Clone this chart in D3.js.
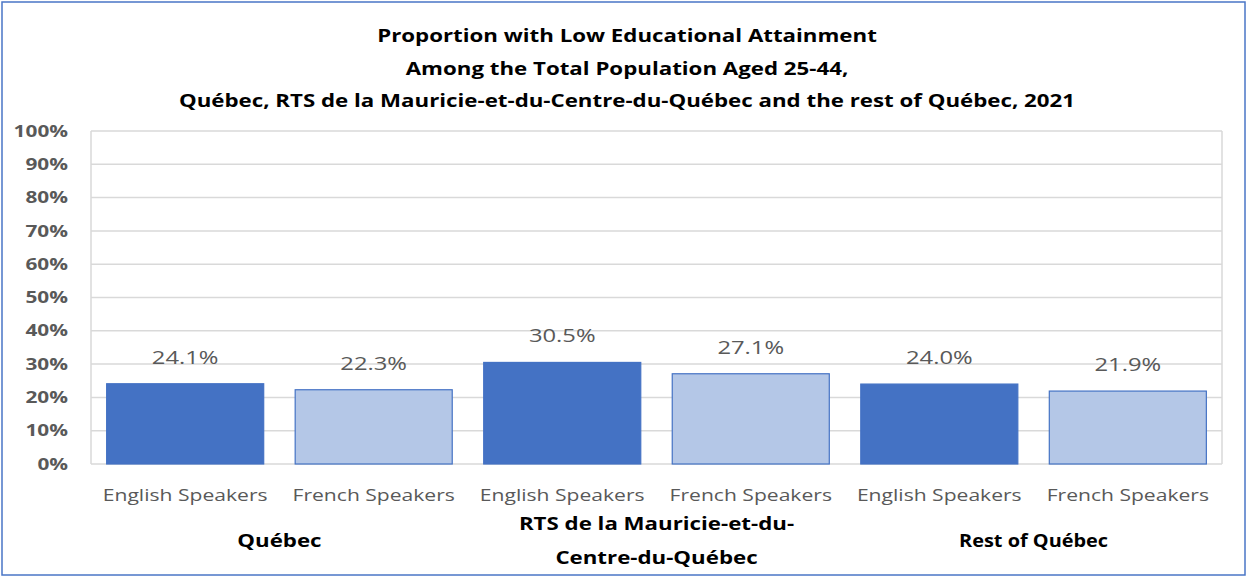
<!DOCTYPE html>
<html>
<head>
<meta charset="utf-8">
<script src="https://cdn.jsdelivr.net/npm/d3@7"></script>
<style>
  body { margin: 0; background: #fff; }
  svg { font-family: "Open Sans", "Noto Sans", sans-serif; }
</style>
</head>
<body>
<div id="chart"></div>
<script>
// chart data
var titleLines = ["Proportion with Low Educational  Attainment",
                  "Among the Total Population Aged 25-44,",
                  "Québec, RTS de la Mauricie-et-du-Centre-du-Québec and the rest of Québec, 2021"];
var regions = ["Québec", "RTS de la Mauricie-et-du-Centre-du-Québec", "Rest of Québec"];
var regionLabels = [["Québec"], ["RTS de la Mauricie-et-du-", "Centre-du-Québec"], ["Rest of Québec"]];
var speakers = ["English Speakers", "French Speakers"];
var values = [24.1, 22.3, 30.5, 27.1, 24.0, 21.9];
var yTicks = [0, 10, 20, 30, 40, 50, 60, 70, 80, 90, 100];

var W = 1247, H = 577;
var plot = {left: 91, right: 1222, top: 131, bottom: 464};

// the original picture is stretched sideways, so stretch the text the same way
function widen(sel, factor) {
  sel.each(function() {
    var len = this.getComputedTextLength();
    d3.select(this).attr("textLength", len * factor).attr("lengthAdjust", "spacingAndGlyphs");
  });
}

var svg = d3.select("#chart").append("svg")
    .attr("width", W).attr("height", H);

// outer border
svg.append("rect")
    .attr("x", 2).attr("y", 2).attr("width", W - 4).attr("height", H - 4)
    .attr("fill", "#fff").attr("stroke", "#4a76c6").attr("stroke-width", 1.5);

// title
svg.append("g").selectAll("text")
    .data(titleLines).enter().append("text")
    .attr("x", 627)
    .attr("y", function(d, i) { return 42 + i * 32.5; })
    .attr("text-anchor", "middle")
    .attr("font-size", "17px").attr("font-weight", "bold").attr("fill", "#000")
    .text(function(d) { return d; })
    .call(widen, 1.31);

// build the flat list of bars
var bars = [];
regions.forEach(function(r, ri) {
  speakers.forEach(function(s, si) {
    bars.push({region: r, speaker: s, si: si, key: ri + "-" + si, value: values[ri * 2 + si]});
  });
});

var x = d3.scaleBand()
    .domain(bars.map(function(d) { return d.key; }))
    .range([plot.left, plot.right])
    .paddingInner(0.167).paddingOuter(0.083);

var y = d3.scaleLinear().domain([0, 100]).range([plot.bottom, plot.top]);

// gridlines
svg.append("g").selectAll("line")
    .data(yTicks).enter().append("line")
    .attr("x1", plot.left).attr("x2", plot.right)
    .attr("y1", function(d) { return y(d); }).attr("y2", function(d) { return y(d); })
    .attr("stroke", "#d9d9d9").attr("stroke-width", 1.5);

// plot frame sides
svg.append("line").attr("x1", plot.left).attr("x2", plot.left)
    .attr("y1", plot.top).attr("y2", plot.bottom).attr("stroke", "#d9d9d9").attr("stroke-width", 1.5);
svg.append("line").attr("x1", plot.right).attr("x2", plot.right)
    .attr("y1", plot.top).attr("y2", plot.bottom).attr("stroke", "#d9d9d9").attr("stroke-width", 1.5);

// y axis labels
var yAxis = d3.axisLeft(y).tickValues(yTicks)
    .tickFormat(function(d) { return d + "%"; })
    .tickSize(0).tickPadding(23);
var ya = svg.append("g").attr("transform", "translate(" + plot.left + ",0)").call(yAxis);
ya.select(".domain").remove();
ya.selectAll("text")
    .attr("font-family", "'Open Sans', sans-serif")
    .attr("font-size", "16px").attr("font-weight", "bold").attr("fill", "#595959")
    .call(widen, 1.3);

// bars
svg.append("g").selectAll("rect")
    .data(bars).enter().append("rect")
    .attr("x", function(d) { return x(d.key); })
    .attr("width", x.bandwidth())
    .attr("y", function(d) { return y(d.value); })
    .attr("height", function(d) { return y(0) - y(d.value); })
    .attr("fill", function(d) { return d.si == 0 ? "#4472c4" : "#b4c7e7"; })
    .attr("stroke", "#4472c4").attr("stroke-width", 1.2);

// value labels
svg.append("g").selectAll("text")
    .data(bars).enter().append("text")
    .attr("x", function(d) { return x(d.key) + x.bandwidth() / 2; })
    .attr("y", function(d) { return y(d.value) - 20; })
    .attr("text-anchor", "middle")
    .attr("font-size", "18px").attr("fill", "#595959")
    .text(function(d) { return d.value.toFixed(1) + "%"; })
    .call(widen, 1.32);

// category labels
svg.append("g").selectAll("text")
    .data(bars).enter().append("text")
    .attr("x", function(d) { return x(d.key) + x.bandwidth() / 2; })
    .attr("y", 501)
    .attr("text-anchor", "middle")
    .attr("font-size", "17px").attr("fill", "#595959")
    .text(function(d) { return d.speaker; })
    .call(widen, 1.24);

// region labels
regionLabels.forEach(function(lines, ri) {
  var cx = (x(ri + "-0") + x(ri + "-1") + x.bandwidth()) / 2;
  var y0 = lines.length == 1 ? 547 : 530;
  svg.append("g").selectAll("text")
      .data(lines).enter().append("text")
      .attr("x", cx)
      .attr("y", function(d, i) { return y0 + i * 34; })
      .attr("text-anchor", "middle")
      .attr("font-size", "17px").attr("font-weight", "bold").attr("fill", "#000")
      .text(function(d) { return d; })
      .call(widen, ri == 2 ? 1.17 : 1.31);
});
</script>
</body>
</html>
